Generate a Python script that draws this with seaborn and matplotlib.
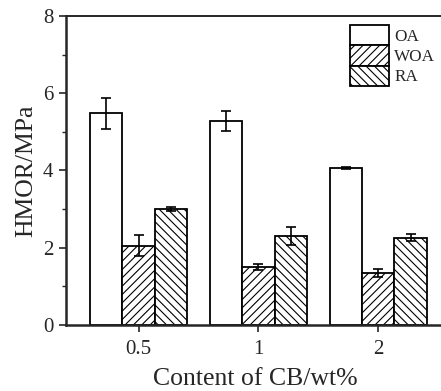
import pandas as pd
import seaborn as sns

import matplotlib
matplotlib.use('Agg')
import matplotlib.pyplot as plt
from matplotlib.ticker import MultipleLocator

# Data
contents = ["0.5", "1", "2"]
series = ["OA", "WOA", "RA"]
oa = [5.48, 5.28, 4.06]
woa = [2.05, 1.51, 1.35]
ra = [3.00, 2.31, 2.26]
oa_err = [0.40, 0.25, 0.03]
woa_err = [0.27, 0.08, 0.10]
ra_err = [0.05, 0.24, 0.09]

values = {"OA": oa, "WOA": woa, "RA": ra}
errors = {"OA": oa_err, "WOA": woa_err, "RA": ra_err}
hatches = {"OA": "", "WOA": "////", "RA": "\\\\\\\\"}

rows = []
for s in series:
    for c, v in zip(contents, values[s]):
        rows.append({"content": c, "series": s, "HMOR": v})
df = pd.DataFrame(rows)

sns.set_style("ticks")
plt.rcParams['font.family'] = ['Liberation Serif', 'DejaVu Serif']
plt.rcParams['hatch.linewidth'] = 0.8

fig = plt.figure(figsize=(4.41, 3.91), dpi=100)
ax = fig.add_axes([66 / 441, 1 - 325 / 391, 1 - 66 / 441 + 0.01, (325 - 16) / 391])

sns.barplot(data=df, x="content", y="HMOR", hue="series", hue_order=series,
            order=contents, errorbar=None, width=0.81, gap=0,
            palette=["white"] * 3, edgecolor="black", linewidth=1.3, ax=ax)

for cont, s in zip(ax.containers, series):
    for bar, err in zip(cont, errors[s]):
        bar.set_hatch(hatches[s])
        bar.set_facecolor("white")
        bar.set_edgecolor("black")
        x = bar.get_x() + bar.get_width() / 2
        ax.errorbar(x, bar.get_height(), yerr=err, color="black",
                    elinewidth=1.2, capsize=3.5, capthick=1.2, zorder=5)

ax.set_ylim(0, 8)
ax.set_xlim(-0.605, 2.56)
ax.yaxis.set_major_locator(MultipleLocator(2))
ax.yaxis.set_minor_locator(MultipleLocator(1))
ax.tick_params(axis="both", which="major", labelsize=15, width=1.2, length=5, direction="out")
ax.tick_params(axis="y", which="minor", width=1.0, length=3, direction="out")
ax.tick_params(axis="x", which="major", pad=6)
ax.tick_params(axis="y", which="major", pad=4)

for side in ["left", "bottom"]:
    ax.spines[side].set_linewidth(1.8)
ax.spines["top"].set_visible(True)
ax.spines["top"].set_linewidth(1.4)
ax.spines["right"].set_visible(False)

ax.set_xlabel("Content of CB/wt%", fontsize=18.5, labelpad=6)
ax.set_ylabel("HMOR/MPa", fontsize=18.5, labelpad=4)

leg = ax.legend(loc="upper left", bbox_to_anchor=(0.73, 0.993), frameon=False,
                fontsize=12.3, handlelength=2.3, handleheight=1.45,
                handletextpad=0.3, labelspacing=0.0, borderaxespad=0)
for h, s in zip(leg.legend_handles, series):
    h.set_hatch(hatches[s])
    h.set_facecolor("white")
    h.set_edgecolor("black")
    h.set_linewidth(1.3)

fig.savefig("out.png", dpi=100)
